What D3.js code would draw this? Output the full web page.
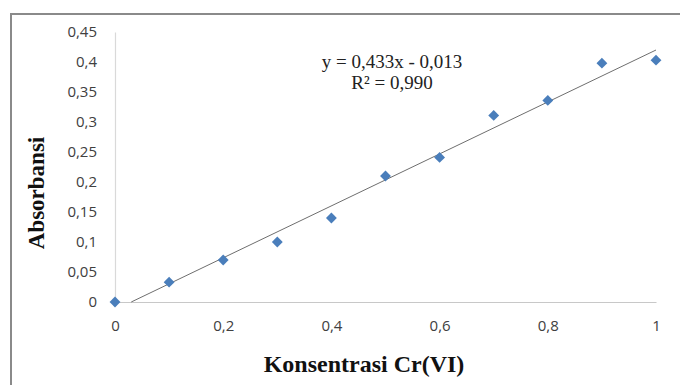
<!DOCTYPE html>
<html>
<head>
<meta charset="utf-8">
<script src="https://cdn.jsdelivr.net/npm/d3@7"></script>
<style>
  body { margin: 0; background: #fff; }
  svg { display: block; }
</style>
</head>
<body>
<div id="plotDiv"></div>
<script>
// data
var konsentrasi = [0, 0.1, 0.2, 0.3, 0.4, 0.5, 0.6, 0.7, 0.8, 0.9, 1];
var absorbansi = [0, 0.033, 0.07, 0.1, 0.14, 0.21, 0.241, 0.311, 0.336, 0.398, 0.403];
var xTicks = [0, 0.2, 0.4, 0.6, 0.8, 1];
var yTicks = [0, 0.05, 0.1, 0.15, 0.2, 0.25, 0.3, 0.35, 0.4, 0.45];
var slope = 0.433, intercept = -0.013;
var eqLines = ["y = 0,433x - 0,013", "R\u00b2 = 0,990"];

var width = 680, height = 385;
var margin = {top: 32, right: 24, bottom: 83, left: 115};

var svg = d3.select("#plotDiv")
    .append("svg")
    .attr("width", width)
    .attr("height", height);

// outer chart frame (cropped at right and bottom)
svg.append("path")
    .attr("d", "M11,386 L11,14 L681,14")
    .attr("fill", "none")
    .attr("stroke", "#8a8a8a")
    .attr("stroke-width", 2);

var x = d3.scaleLinear()
    .domain([0, 1])
    .range([margin.left, width - margin.right]);
var y = d3.scaleLinear()
    .domain([0, 0.45])
    .range([height - margin.bottom, margin.top]);

var fmt = function(d) { return String(d).replace(".", ","); };

// y axis
var yAxis = svg.append("g")
    .attr("transform", "translate(" + margin.left + ",0)")
    .call(d3.axisLeft(y).tickValues(yTicks).tickFormat(fmt).tickSize(0).tickPadding(18));
yAxis.select(".domain").attr("stroke", "#d9d9d9").attr("stroke-width", 1.2);
yAxis.selectAll("text")
    .attr("font-family", "'Open Sans', sans-serif")
    .attr("font-size", 15)
    .attr("fill", "#404040");

// x axis
var xAxis = svg.append("g")
    .attr("transform", "translate(0," + y(0) + ")")
    .call(d3.axisBottom(x).tickValues(xTicks).tickFormat(fmt).tickSize(0).tickPadding(18));
xAxis.select(".domain").attr("stroke", "#c8c8c8").attr("stroke-width", 1.2);
xAxis.selectAll("text")
    .attr("font-family", "'Open Sans', sans-serif")
    .attr("font-size", 15)
    .attr("fill", "#404040");

// linear trendline, clipped at y = 0
var x0 = -intercept / slope;
svg.append("line")
    .attr("x1", x(x0)).attr("y1", y(slope * x0 + intercept))
    .attr("x2", x(1)).attr("y2", y(slope * 1 + intercept))
    .attr("stroke", "#6e6e6e")
    .attr("stroke-width", 1);

// diamond markers
svg.selectAll("path.pt")
    .data(konsentrasi)
    .enter().append("path")
    .attr("class", "pt")
    .attr("d", d3.symbol().type(d3.symbolDiamond2).size(75))
    .attr("transform", function(d, i) { return "translate(" + x(d) + "," + y(absorbansi[i]) + ")"; })
    .attr("fill", "#4a7ebb");

// equation
svg.append("text")
    .attr("x", 392).attr("y", 68)
    .attr("text-anchor", "middle")
    .attr("font-family", "'Liberation Serif', serif")
    .attr("font-size", 19)
    .attr("fill", "#222")
    .selectAll("tspan")
    .data(eqLines)
    .enter().append("tspan")
    .attr("x", 392)
    .attr("dy", function(d, i) { return i ? 21 : 0; })
    .text(function(d) { return d; });

// axis titles
svg.append("text")
    .attr("transform", "translate(44,193) rotate(-90)")
    .attr("text-anchor", "middle")
    .attr("font-family", "'Liberation Serif', serif")
    .attr("font-weight", "bold")
    .attr("font-size", 23)
    .attr("fill", "#111")
    .text("Absorbansi");

svg.append("text")
    .attr("x", 364).attr("y", 372)
    .attr("text-anchor", "middle")
    .attr("font-family", "'Liberation Serif', serif")
    .attr("font-weight", "bold")
    .attr("font-size", 24)
    .attr("fill", "#111")
    .text("Konsentrasi Cr(VI)");
</script>
</body>
</html>
